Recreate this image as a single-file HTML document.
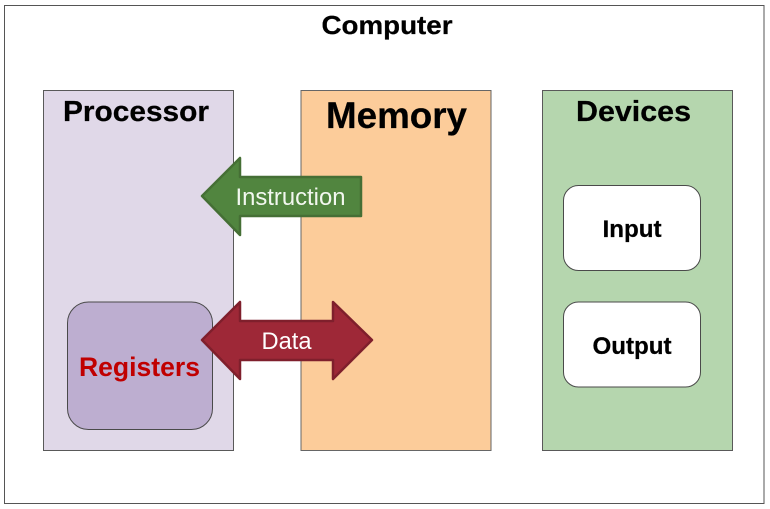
<!DOCTYPE html>
<html>
<head>
<meta charset="utf-8">
<style>
html,body{margin:0;padding:0;background:#fff;width:770px;height:509px;overflow:hidden}
svg{display:block}
text{font-family:"Liberation Sans",sans-serif;text-anchor:middle}
.b{font-weight:700;stroke:#000;stroke-width:.25px}
</style>
</head>
<body>
<svg width="770" height="509" viewBox="0 0 770 509" xmlns="http://www.w3.org/2000/svg">
<rect x="0" y="0" width="770" height="509" fill="#fff"/>
<rect x="4.500" y="5.500" width="759.500" height="498" fill="#fff" stroke="#555" stroke-width="1"/>
<rect x="43.500" y="90.500" width="190" height="360" fill="#e0d8e8" stroke="#595959" stroke-width="1"/>
<rect x="301" y="90.500" width="190" height="360" fill="#fccc9a" stroke="#666" stroke-width="1"/>
<rect x="542.500" y="90.500" width="190" height="360" fill="#b5d6ae" stroke="#595959" stroke-width="1"/>
<rect x="67.500" y="302" width="145" height="127.500" rx="21" ry="21" fill="#bdaed0" stroke="#4a4a4a" stroke-width="1"/>
<rect x="563.500" y="185.500" width="137" height="85" rx="15" ry="15" fill="#fff" stroke="#4a4a4a" stroke-width="1"/>
<rect x="563.500" y="302" width="137" height="85" rx="15" ry="15" fill="#fff" stroke="#4a4a4a" stroke-width="1"/>
<polygon points="202,196 240,158 240,177 361,177 361,216 240,216 240,235" fill="#51853f" stroke="#456f35" stroke-width="2.500" stroke-linejoin="round"/>
<polygon points="202,340 240,302 240,321 333,321 333,302 372,340 333,379 333,360 240,360 240,379" fill="#9e2837" stroke="#7f1f2c" stroke-width="2.500" stroke-linejoin="round"/>
<text class="b" x="387" y="34" font-size="26" textLength="131" lengthAdjust="spacingAndGlyphs" fill="#000">Computer</text>
<text class="b" x="136" y="121" font-size="28.500" textLength="146" lengthAdjust="spacingAndGlyphs" fill="#000">Processor</text>
<text class="b" x="396.500" y="128" font-size="37" textLength="141" lengthAdjust="spacingAndGlyphs" fill="#000">Memory</text>
<text class="b" x="633.500" y="121" font-size="29" textLength="115" lengthAdjust="spacingAndGlyphs" fill="#000">Devices</text>
<text class="b" x="632" y="237" font-size="24" textLength="59" lengthAdjust="spacingAndGlyphs" fill="#000">Input</text>
<text class="b" x="632" y="354" font-size="24" textLength="79" lengthAdjust="spacingAndGlyphs" fill="#000">Output</text>
<text x="139.500" y="376" font-size="27" font-weight="700" textLength="121" lengthAdjust="spacingAndGlyphs" fill="#c00000">Registers</text>
<text x="290.500" y="205" font-size="24" textLength="110" lengthAdjust="spacingAndGlyphs" fill="#f2f7ef">Instruction</text>
<text x="286.500" y="349" font-size="24" textLength="50" lengthAdjust="spacingAndGlyphs" fill="#fff">Data</text>
</svg>
</body>
</html>
